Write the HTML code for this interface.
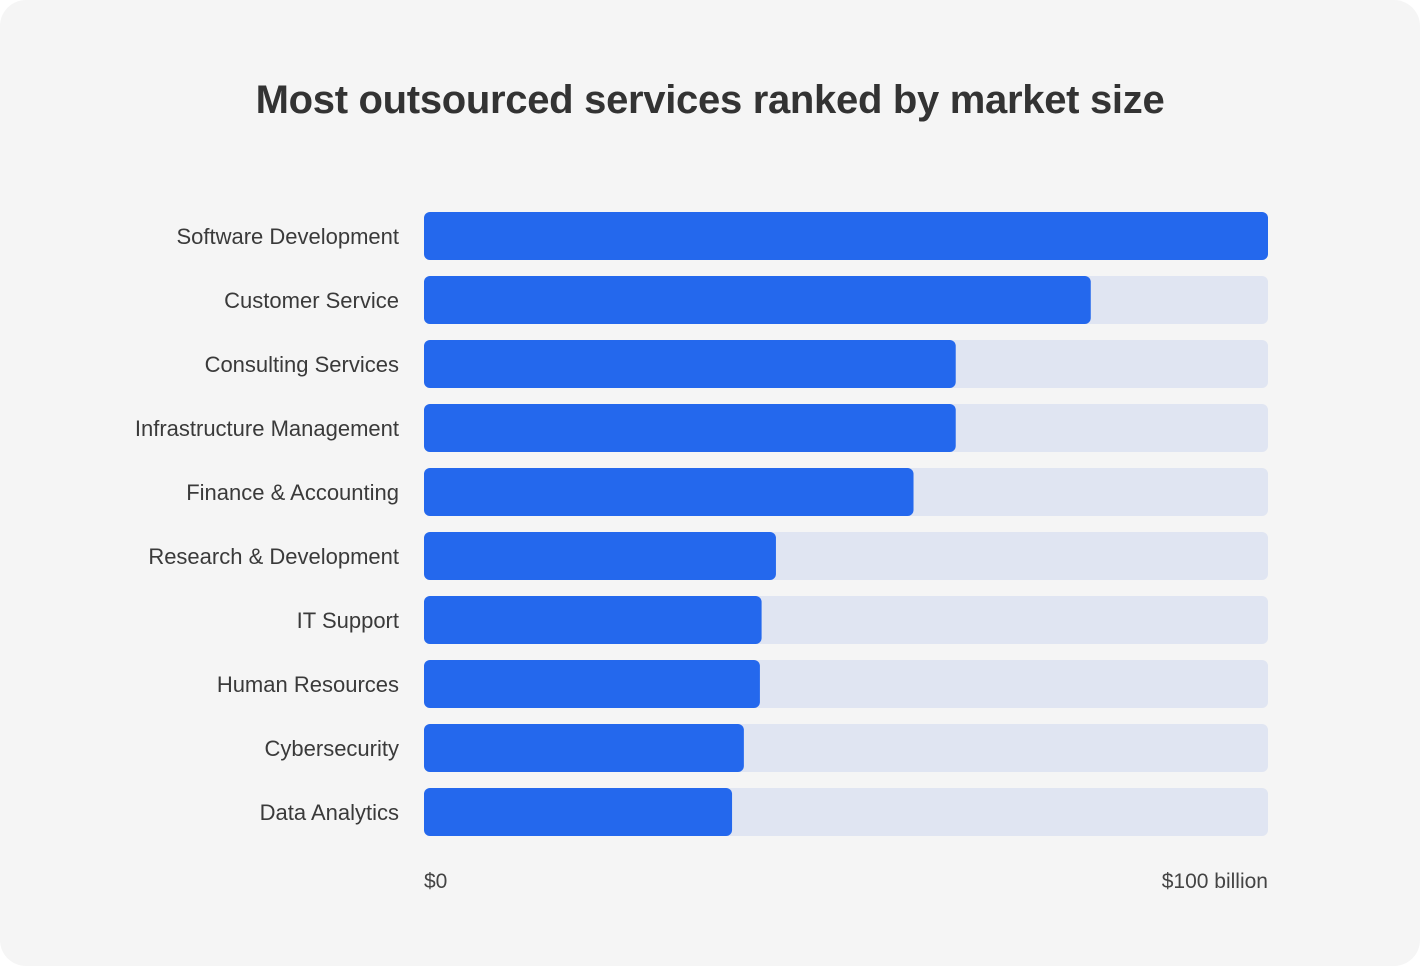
<!DOCTYPE html>
<html><head><meta charset="utf-8">
<style>
html,body{margin:0;padding:0;background:#fff;}
body{width:1420px;height:966px;overflow:hidden;font-family:"Liberation Sans",sans-serif;}
#card{position:absolute;left:0;top:0;width:1420px;height:966px;background:#f5f5f5;border-radius:26px;}
#title{position:absolute;left:0;width:1420px;top:78px;text-align:center;font-size:40px;font-weight:bold;color:#333;letter-spacing:-0.3px;}
</style></head><body>
<div id="card">
<div id="title">Most outsourced services ranked by market size</div>
<svg id="chart" width="1420" height="966" style="position:absolute;left:0;top:0"></svg>
</div>
<script>
const categories = ["Software Development","Customer Service","Consulting Services","Infrastructure Management","Finance & Accounting","Research & Development","IT Support","Human Resources","Cybersecurity","Data Analytics"];
const values = [100, 79, 63, 63, 58, 41.7, 40, 39.8, 37.9, 36.5];
const tickLabels = ["$0","$100 billion"];
const tickValues = [0, 100];
const maxValue = 100;

const NS="http://www.w3.org/2000/svg";
const svg=document.getElementById('chart');
const x0=424, x1=1268, y0=212, step=64, bh=48;
const xs=v=>x0+(x1-x0)*v/maxValue;
const ys=i=>y0+i*step;
function mk(tag,attrs){const e=document.createElementNS(NS,tag);for(const k in attrs)e.setAttribute(k,attrs[k]);svg.appendChild(e);return e;}
categories.forEach((c,i)=>{
  const t=mk('rect',{x:x0,y:ys(i),width:x1-x0,height:bh,rx:6,fill:'#e0e5f2'});
  
  
  const b=mk('rect',{x:x0,y:ys(i),width:xs(values[i])-x0,height:bh,rx:6,fill:'#2468ed'});
  
  
  const l=mk('text',{x:399,y:ys(i)+bh/2+8,'text-anchor':'end','font-size':22,fill:'#3a3a3a','font-family':'Liberation Sans, sans-serif'});
  l.textContent=c;
  
  
});
tickValues.forEach((v,i)=>{
  const t=mk('text',{x:xs(v),y:888,'text-anchor':i===0?'start':'end','font-size':21,fill:'#444','font-family':'Liberation Sans, sans-serif'});
  t.textContent=tickLabels[i];
  
  
});
</script>
</body></html>
